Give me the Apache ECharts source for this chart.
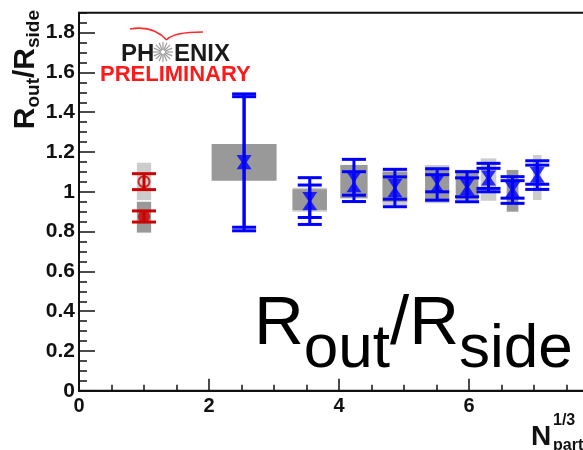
<!DOCTYPE html>
<html>
<head>
<meta charset="utf-8">
<script src="https://cdn.jsdelivr.net/npm/echarts@6/dist/echarts.min.js"></script>
<style>
  html, body { margin: 0; padding: 0; background: #ffffff; }
  #chart { width: 583px; height: 450px; }
</style>
</head>
<body>
<div id="chart"></div>
<script>
// ---- data: R_out / R_side versus N_part^(1/3) ----
// reference system (red), open and filled markers
const redX        = [1.0];
const redOpenY    = [1.051];
const redOpenErr  = [0.040];
const redOpenSys  = [[0.958, 1.146]];
const redFillY    = [0.876];
const redFillErr  = [0.028];
const redFillSys  = [[0.795, 0.950]];
const redSysHalfW = [0.11];

// centrality bins (blue)
const blueX        = [2.54, 3.55, 4.23, 4.86, 5.51, 5.97, 6.30, 6.67, 7.05];
const blueDownY    = [1.157, 0.971, 1.073, 1.038, 1.058, 1.038, 1.080, 1.022, 1.097];
const blueDownErr  = [0.335, 0.100, 0.090, 0.075, 0.058, 0.063, 0.063, 0.054, 0.059];
const blueUpY      = [1.141, 0.935, 1.026, 1.000, 1.022, 1.010, 1.059, 0.999, 1.073];
const blueUpErr    = [0.337, 0.099, 0.075, 0.075, 0.064, 0.060, 0.059, 0.057, 0.061];
const blueSysHalfW = [0.50, 0.265, 0.21, 0.19, 0.185, 0.175, 0.12, 0.09, 0.065];
const blueSysDark  = [[1.056, 1.240], [0.908, 1.013], [0.967, 1.135], [0.950, 1.100],
                      [0.950, 1.120], [0.960, 1.110], null, [0.900, 1.110], null];
const blueSysLight = [null, [0.900, 1.020], null, [0.934, 1.118],
                      [0.942, 1.135], null, [0.955, 1.168], null, [0.959, 1.185]];

// axis ticks
const xTickStep = 2;
const yTickStep = 0.2;

// ---- styling ----
const FONT = 'Liberation Sans, Arial, sans-serif';
const RED = '#cc0000';
const BLUE = '#0000ff';
const GREY_DARK = '#999999';
const GREY_LIGHT = '#cccccc';
const AXIS = '#111111';

function boxData(xs, ranges, halfW) {
  const out = [];
  xs.forEach((x, i) => {
    if (ranges[i]) out.push([x, ranges[i][0], ranges[i][1], halfW[i]]);
  });
  return out;
}

function boxSeries(data, color, z) {
  return {
    type: 'custom', z: z, silent: true, data: data,
    encode: { x: 0, y: [1, 2] },
    renderItem: function (params, api) {
      const x = api.value(0), hw = api.value(3);
      const p1 = api.coord([x - hw, api.value(2)]);
      const p2 = api.coord([x + hw, api.value(1)]);
      return {
        type: 'rect',
        shape: { x: p1[0], y: p1[1], width: p2[0] - p1[0], height: p2[1] - p1[1] },
        style: { fill: color }
      };
    }
  };
}

function errorSeries(xs, ys, errs, color, z) {
  return {
    type: 'custom', z: z, silent: true,
    data: xs.map((x, i) => [x, ys[i], errs[i]]),
    encode: { x: 0, y: 1 },
    renderItem: function (params, api) {
      const x = api.value(0), y = api.value(1), e = api.value(2);
      const top = api.coord([x, y + e]);
      const bot = api.coord([x, y - e]);
      const cw = 12;
      const st = { stroke: color, lineWidth: 3 };
      return {
        type: 'group',
        children: [
          { type: 'line', shape: { x1: top[0], y1: top[1], x2: bot[0], y2: bot[1] }, style: st },
          { type: 'line', shape: { x1: top[0] - cw, y1: top[1], x2: top[0] + cw, y2: top[1] }, style: st },
          { type: 'line', shape: { x1: bot[0] - cw, y1: bot[1], x2: bot[0] + cw, y2: bot[1] }, style: st }
        ]
      };
    }
  };
}

function markerSeries(xs, ys, symbol, size, rotate, itemStyle, z) {
  return {
    type: 'scatter', z: z, silent: true,
    data: xs.map((x, i) => [x, ys[i]]),
    symbol: symbol, symbolSize: size, symbolRotate: rotate,
    itemStyle: itemStyle
  };
}

// starburst of the logo
const starRays = [];
for (let k = 0; k < 16; k++) {
  const a = k * Math.PI / 8;
  starRays.push({
    type: 'line',
    shape: { x1: 163 + 2 * Math.cos(a), y1: 52 + 2 * Math.sin(a), x2: 163 + 10 * Math.cos(a), y2: 52 + 10 * Math.sin(a) },
    style: { stroke: '#9a9a9a', lineWidth: 1.2 }
  });
}

const chart = echarts.init(document.getElementById('chart'), null, { renderer: 'canvas' });

chart.setOption({
  animation: false,
  backgroundColor: '#ffffff',
  grid: {
    left: 79, top: 12.7, right: -16, bottom: 59.2,
    outerBoundsMode: 'none', containLabel: false,
    show: true, borderColor: AXIS, borderWidth: 2, backgroundColor: 'transparent'
  },
  xAxis: [{
    type: 'value', min: 0, max: 8, interval: xTickStep,
    axisLine: { show: true, onZero: false, lineStyle: { color: AXIS, width: 2 } },
    axisTick: { show: true, inside: true, length: 12, lineStyle: { color: AXIS, width: 1.5 } },
    minorTick: { show: true, splitNumber: 4, length: 6, lineStyle: { color: AXIS, width: 1.5 } },
    splitLine: { show: false },
    axisLabel: { color: AXIS, fontFamily: FONT, fontWeight: 'bold', fontSize: 20, margin: 6 }
  }],
  yAxis: [{
    type: 'value', min: 0, max: 1.9, interval: yTickStep,
    axisLine: { show: true, onZero: false, lineStyle: { color: AXIS, width: 2 } },
    axisTick: { show: true, inside: true, length: 16, lineStyle: { color: AXIS, width: 1.5 } },
    splitLine: { show: false },
    axisLabel: { color: AXIS, fontFamily: FONT, fontWeight: 'bold', fontSize: 21, margin: 4, showMaxLabel: false }
  }, {
    type: 'value', min: 0, max: 1.9, interval: yTickStep / 4, position: 'left',
    axisLine: { show: false },
    axisTick: { show: true, inside: true, length: 8, lineStyle: { color: AXIS, width: 1.5 } },
    splitLine: { show: false },
    axisLabel: { show: false }
  }],
  series: [
    boxSeries(boxData(redX, redOpenSys, redSysHalfW), GREY_LIGHT, 1),
    boxSeries(boxData(redX, redFillSys, redSysHalfW), GREY_DARK, 2),
    boxSeries(boxData(blueX, blueSysLight, blueSysHalfW), GREY_LIGHT, 1),
    boxSeries(boxData(blueX, blueSysDark, blueSysHalfW), GREY_DARK, 2),
    errorSeries(redX, redOpenY, redOpenErr, RED, 3),
    errorSeries(redX, redFillY, redFillErr, RED, 3),
    errorSeries(blueX, blueDownY, blueDownErr, BLUE, 3),
    errorSeries(blueX, blueUpY, blueUpErr, BLUE, 3),
    markerSeries(redX, redOpenY, 'circle', 11, 0, { color: 'transparent', borderColor: RED, borderWidth: 2 }, 4),
    markerSeries(redX, redFillY, 'circle', 12, 0, { color: RED }, 4),
    markerSeries(blueX, blueDownY, 'triangle', [15, 11], 180, { color: BLUE }, 4),
    markerSeries(blueX, blueUpY, 'triangle', [15, 11], 0, { color: BLUE }, 4)
  ],
  graphic: [
    // y axis title
    {
      type: 'text', x: 26, y: 10, rotation: Math.PI / 2, z: 10,
      style: {
        text: '{m|R}{s|out}{m|/R}{s|side}',
        align: 'right', verticalAlign: 'middle',
        rich: {
          m: { fontSize: 30, fontWeight: 'bold', fontFamily: FONT, fill: '#111', lineHeight: 34 },
          s: { fontSize: 19, fontWeight: 'bold', fontFamily: FONT, fill: '#111', lineHeight: 20, verticalAlign: 'bottom' }
        }
      }
    },
    // x axis title
    { type: 'text', x: 531, y: 437, z: 10, style: { text: 'N', font: 'bold 28px ' + FONT, fill: '#111', verticalAlign: 'middle' } },
    { type: 'text', x: 553, y: 421, z: 10, style: { text: '1/3', font: 'bold 16px ' + FONT, fill: '#111', verticalAlign: 'middle' } },
    { type: 'text', x: 553, y: 446, z: 10, style: { text: 'part', font: 'bold 16px ' + FONT, fill: '#111', verticalAlign: 'middle' } },
    // PHENIX preliminary logo: wing arc
    {
      type: 'bezierCurve', z: 10,
      shape: { x1: 130, y1: 29, cpx1: 153, cpy1: 25, x2: 166.5, y2: 40 },
      style: { stroke: '#ff2a2a', lineWidth: 1.6, fill: null }
    },
    {
      type: 'bezierCurve', z: 10,
      shape: { x1: 166.5, y1: 40, cpx1: 173, cpy1: 32, x2: 203, y2: 32 },
      style: { stroke: '#ff2a2a', lineWidth: 1.6, fill: null }
    },
    { type: 'group', z: 10, children: starRays },
    { type: 'text', x: 121, y: 54.5, z: 10, style: { text: 'PH', font: 'bold 24px ' + FONT, fill: '#1a1a1a', verticalAlign: 'middle' } },
    { type: 'text', x: 174, y: 54.5, z: 10, style: { text: 'ENIX', font: 'bold 24px ' + FONT, fill: '#1a1a1a', verticalAlign: 'middle' } },
    { type: 'text', x: 100, y: 74.5, z: 10, style: { text: 'PRELIMINARY', font: 'bold 22px ' + FONT, fill: '#ff1a1a', verticalAlign: 'middle' } },
    // large caption
    {
      type: 'text', x: 254, y: 325, z: 10,
      style: {
        text: '{m|R}{s|out}{m|/R}{s|side}',
        align: 'left', verticalAlign: 'middle',
        rich: {
          m: { fontSize: 69, fontFamily: FONT, fill: '#000', lineHeight: 112 },
          s: { fontSize: 62, fontFamily: FONT, fill: '#000', lineHeight: 6, verticalAlign: 'bottom' }
        }
      }
    }
  ]
});
</script>
</body>
</html>
